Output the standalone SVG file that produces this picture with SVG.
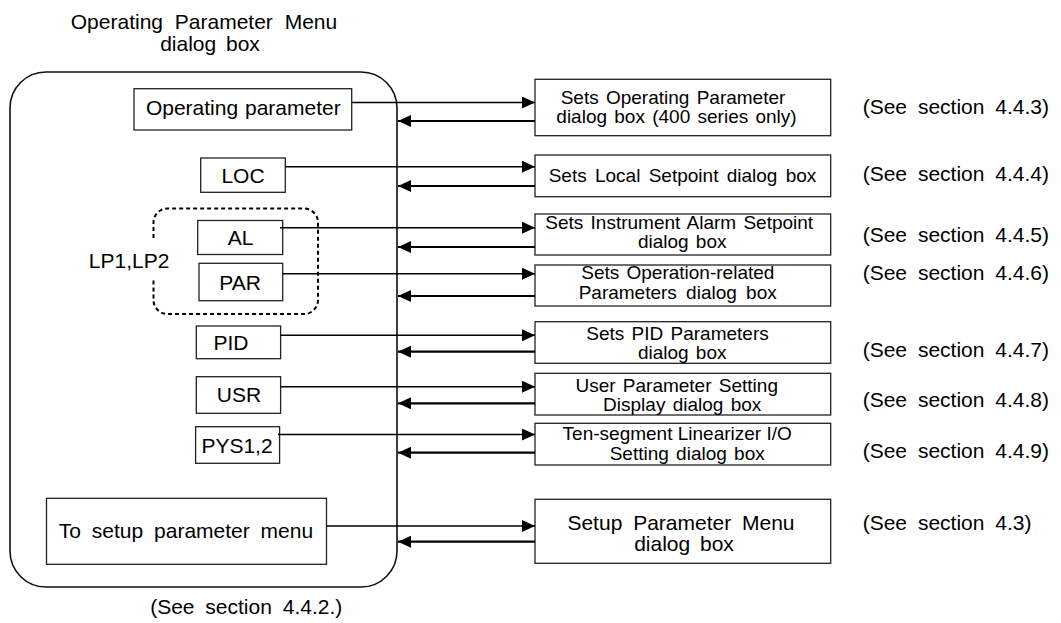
<svg xmlns="http://www.w3.org/2000/svg" width="1061" height="623" viewBox="0 0 1061 623">
<style>
text{font-family:"Liberation Sans",Arial,sans-serif;fill:#000}
.l{font-size:21px;word-spacing:5px}
.s{font-size:19px;word-spacing:2px}
.m{text-anchor:middle}
.box{fill:#fff;stroke:#222;stroke-width:1.3}
.fw{stroke:#000;stroke-width:1.5;fill:none;marker-end:url(#ah)}
.bk{stroke:#000;stroke-width:2.2;fill:none;marker-end:url(#ah)}
</style>
<defs>
<marker id="ah" markerUnits="userSpaceOnUse" markerWidth="14" markerHeight="12" refX="13" refY="6" orient="auto">
<path d="M0,0 L13,6 L0,12 z" fill="#000"/>
</marker>
</defs>
<rect width="1061" height="623" fill="#fff"/>

<g id="menu">
<text class="l m" x="204" y="29" style="word-spacing:6px">Operating Parameter Menu</text>
<text class="l m" x="210" y="50.5" style="word-spacing:4px">dialog box</text>
<rect x="10" y="72" width="387" height="515" rx="36" ry="36" fill="none" stroke="#111" stroke-width="1.6"/>
<text class="l m" x="246.2" y="614">(See section 4.4.2.)</text>
</g>

<g id="lp-group">
<path d="M153.5,238 V222.5 A14,14 0 0 1 167.5,208.5 H304 A14,14 0 0 1 318,222.5 V300 A14,14 0 0 1 304,314 H167.5 A14,14 0 0 1 153.5,300 V278" fill="none" stroke="#000" stroke-width="2" stroke-dasharray="4,3"/>
<text class="l" x="88.8" y="268">LP1,LP2</text>
</g>

<g id="n-op">
<rect class="box" x="134" y="88.7" width="217.7" height="41.3"/>
<text class="l m" x="243.3" y="114.5" style="word-spacing:1px">Operating parameter</text>
</g>
<g id="n-loc">
<rect class="box" x="200.7" y="158" width="84.6" height="34.3"/>
<text class="l m" x="243" y="183">LOC</text>
</g>
<g id="n-al">
<rect class="box" x="197.7" y="220.5" width="85" height="34"/>
<text class="l m" x="240.5" y="245">AL</text>
</g>
<g id="n-par">
<rect class="box" x="199" y="263.3" width="83.7" height="37.4"/>
<text class="l m" x="240" y="290">PAR</text>
</g>
<g id="n-pid">
<rect class="box" x="196.3" y="326" width="84.3" height="32.7"/>
<text class="l" x="213.5" y="350">PID</text>
</g>
<g id="n-usr">
<rect class="box" x="196.3" y="376.7" width="84.3" height="36.6"/>
<text class="l m" x="239" y="402.3">USR</text>
</g>
<g id="n-pys">
<rect class="box" x="195.6" y="426.7" width="84" height="36.6"/>
<text class="l" x="201.4" y="452.7">PYS1,2</text>
</g>
<g id="n-setup">
<rect class="box" x="46.5" y="498.3" width="280" height="66"/>
<text class="l m" x="186" y="538.3">To setup parameter menu</text>
</g>

<g id="r-op">
<rect class="box" x="535" y="79.3" width="295.7" height="56.4"/>
<text class="s m" x="673" y="104">Sets Operating Parameter</text>
<text class="s m" x="676.5" y="123">dialog box (400 series only)</text>
<text class="l" x="862.7" y="114">(See section 4.4.3)</text>
</g>
<g id="r-loc">
<rect class="box" x="535" y="155" width="295.7" height="41.7"/>
<text class="s m" x="682.5" y="181.5" style="word-spacing:3px">Sets Local Setpoint dialog box</text>
<text class="l" x="862.7" y="180.5">(See section 4.4.4)</text>
</g>
<g id="r-al">
<rect class="box" x="535" y="214" width="295.7" height="41"/>
<text class="s m" x="679.2" y="229">Sets Instrument Alarm Setpoint</text>
<text class="s m" x="682.2" y="248">dialog box</text>
<text class="l" x="862.7" y="241.5">(See section 4.4.5)</text>
</g>
<g id="r-par">
<rect class="box" x="535" y="265" width="295.7" height="41"/>
<text class="s m" x="677.8" y="279">Sets Operation-related</text>
<text class="s m" x="677.7" y="298.5" style="word-spacing:4px">Parameters dialog box</text>
<text class="l" x="862.7" y="279.5">(See section 4.4.6)</text>
</g>
<g id="r-pid">
<rect class="box" x="535" y="321.7" width="295.7" height="41.6"/>
<text class="s m" x="677.5" y="339.5">Sets PID Parameters</text>
<text class="s m" x="682.2" y="358.5">dialog box</text>
<text class="l" x="862.7" y="357">(See section 4.4.7)</text>
</g>
<g id="r-usr">
<rect class="box" x="535" y="373.3" width="295.7" height="41.7"/>
<text class="s m" x="676.7" y="392">User Parameter Setting</text>
<text class="s m" x="682.2" y="411">Display dialog box</text>
<text class="l" x="862.7" y="407">(See section 4.4.8)</text>
</g>
<g id="r-pys">
<rect class="box" x="535" y="423.3" width="295.7" height="41.7"/>
<text class="s m" x="677.2" y="440" style="word-spacing:0px">Ten-segment Linearizer I/O</text>
<text class="s m" x="687.2" y="460">Setting dialog box</text>
<text class="l" x="862.7" y="458">(See section 4.4.9)</text>
</g>
<g id="r-setup">
<rect class="box" x="535" y="499.3" width="295.7" height="64"/>
<text class="l m" x="681" y="530">Setup Parameter Menu</text>
<text class="l m" x="684" y="551" style="word-spacing:4px">dialog box</text>
<text class="l" x="862.7" y="530">(See section 4.3)</text>
</g>

<g id="connectors">
<path class="fw" d="M351.7,102.5 H535"/>
<path class="bk" d="M535,121 H398"/>
<path class="fw" d="M285.3,166.7 H535" stroke-width="2"/>
<path class="bk" d="M535,186 H398"/>
<path class="fw" d="M280,227.7 H535"/>
<path class="bk" d="M535,247 H398"/>
<path class="fw" d="M282.7,273.7 H535"/>
<path class="bk" d="M535,296 H398"/>
<path class="fw" d="M280.6,335.3 H535"/>
<path class="bk" d="M535,351.7 H398"/>
<path class="fw" d="M280.6,386.7 H535"/>
<path class="bk" d="M535,403.3 H398"/>
<path class="fw" d="M278,434.5 H535"/>
<path class="bk" d="M535,452.7 H398"/>
<path class="fw" d="M326.5,526 H535"/>
<path class="bk" d="M535,541.7 H398"/>
</g>
</svg>
